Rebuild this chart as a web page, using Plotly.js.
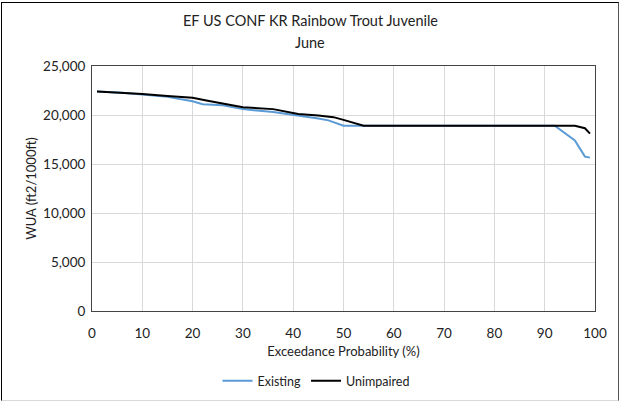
<!DOCTYPE html>
<html><head><meta charset="utf-8">
<script src="https://cdn.plot.ly/plotly-3.0.1.min.js"></script>
<style>
html,body{margin:0;padding:0;background:#fff;}
#wrap{position:absolute;left:1px;top:2px;width:616px;height:397px;border:1px solid #000;border-bottom-color:#d9d9d9;border-right-color:#555;}
#chart{position:absolute;left:0;top:0;width:621px;height:402px;}
</style></head>
<body>
<div id="wrap"></div>
<div id="chart"></div>
<script>
const existingX = [1, 6, 10, 15, 20, 22, 26, 30, 36, 41, 45, 47, 50, 54, 92, 96, 98, 99];
const existingY = [22400, 22280, 22100, 21850, 21400, 21100, 21000, 20600, 20300, 19950, 19650, 19450, 18900, 18900, 18900, 17400, 15750, 15650];
const unimpairedX = [1, 6, 10, 15, 20, 23, 26, 30, 36, 41, 45, 48, 50, 54, 96, 98, 99];
const unimpairedY = [22400, 22280, 22140, 21950, 21750, 21450, 21150, 20800, 20600, 20100, 19950, 19780, 19500, 18900, 18900, 18650, 18100];
const xTicks = [0, 10, 20, 30, 40, 50, 60, 70, 80, 90, 100];
const yTicks = [0, 5000, 10000, 15000, 20000, 25000];
const yTickText = ["0", "5,000", "10,000", "15,000", "20,000", "25,000"];
const titleLines = ["EF US CONF KR Rainbow Trout Juvenile", "June"];

const font = "Lato, 'Open Sans', sans-serif";
const data = [
  {x: existingX, y: existingY, name: "Existing", mode: "lines", line: {color: "#5b9bd5", width: 2}},
  {x: unimpairedX, y: unimpairedY, name: "Unimpaired", mode: "lines", line: {color: "#000000", width: 2}}
];
const chartCenter = (310 - 92) / 503;
const legendCenter = (316 - 92) / 503;
const layout = {
  width: 621, height: 402,
  margin: {l: 92, r: 26, t: 66, b: 91, autoexpand: false},
  paper_bgcolor: "rgba(0,0,0,0)", plot_bgcolor: "#fff",
  font: {family: font, size: 12, color: "#222"},
  annotations: [
    {text: titleLines[0], xref: "paper", yref: "paper", x: chartCenter, y: 1, xanchor: "center", yanchor: "middle", yshift: 46, showarrow: false, font: {family: font, size: 14.5, color: "#222"}},
    {text: titleLines[1], xref: "paper", yref: "paper", x: chartCenter, y: 1, xanchor: "center", yanchor: "middle", yshift: 24, showarrow: false, font: {family: font, size: 14.5, color: "#222"}}
  ],
  xaxis: {range: [0, 100], tickvals: xTicks, ticks: "", showgrid: true, gridcolor: "#d9d9d9", gridwidth: 1,
          showline: true, linecolor: "#444", linewidth: 1, mirror: true, zeroline: false, automargin: false,
          tickfont: {size: 13.5}, ticklabelstandoff: 10,
          title: {text: "Exceedance Probability (%)", font: {family: font, size: 13}, standoff: 6}},
  yaxis: {range: [0, 25000], tickvals: yTicks, ticktext: yTickText, ticks: "", showgrid: true, gridcolor: "#d9d9d9", gridwidth: 1,
          showline: true, linecolor: "#444", linewidth: 1, mirror: true, zeroline: false, automargin: false,
          tickfont: {size: 13.5}, ticklabelstandoff: 3,
          title: {text: "WUA (ft2/1000ft)", font: {family: font, size: 13}, standoff: 3}},
  showlegend: true,
  legend: {orientation: "h", x: legendCenter, xanchor: "center", yref: "container", y: 1 - 381 / 402, yanchor: "middle", font: {family: font, size: 12.5}, tracegroupgap: 0}
};
Plotly.newPlot("chart", data, layout, {displayModeBar: false, staticPlot: true});
</script>
</body></html>
